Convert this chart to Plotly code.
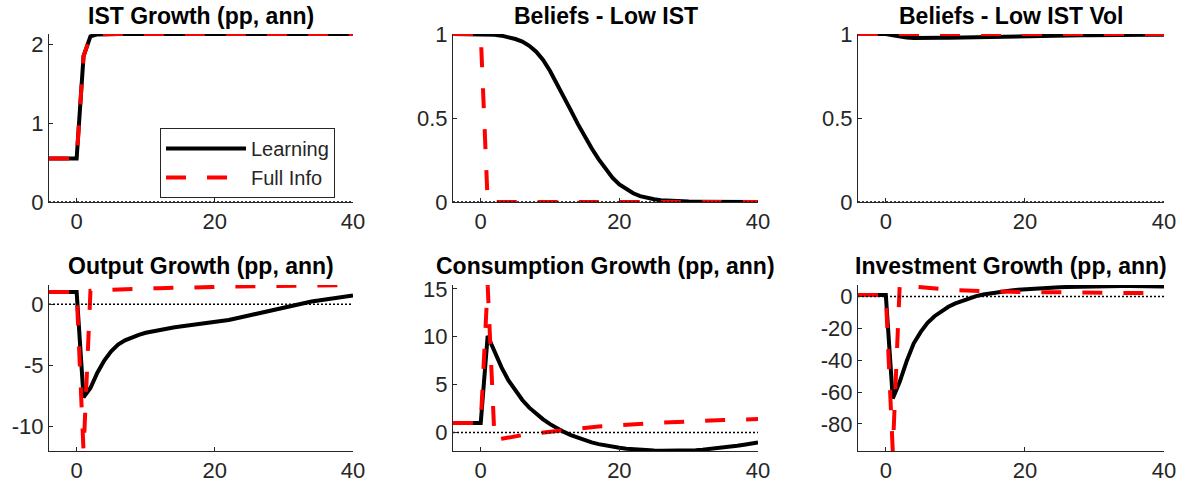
import plotly.graph_objects as go

# ---------------- data ----------------
X = list(range(-4, 41))

ist_learning = [0.55, 0.55, 0.55, 0.55, 0.55,
                1.85, 2.10, 2.125, 2.13, 2.13, 2.13, 2.13, 2.13, 2.13, 2.13,
                2.13, 2.13, 2.13, 2.13, 2.13, 2.13, 2.13, 2.13, 2.13, 2.13,
                2.13, 2.13, 2.13, 2.13, 2.13, 2.13, 2.13, 2.13, 2.13, 2.13,
                2.13, 2.13, 2.13, 2.13, 2.13, 2.13, 2.13, 2.13, 2.13, 2.13]
ist_full = [0.55, 0.55, 0.55, 0.55, 0.55,
            1.85, 2.10, 2.125, 2.13, 2.13, 2.13, 2.13, 2.13, 2.13, 2.13,
            2.13, 2.13, 2.13, 2.13, 2.13, 2.13, 2.13, 2.13, 2.13, 2.13,
            2.13, 2.13, 2.13, 2.13, 2.13, 2.13, 2.13, 2.13, 2.13, 2.13,
            2.13, 2.13, 2.13, 2.13, 2.13, 2.13, 2.13, 2.13, 2.13, 2.13]

low_ist_learning = [1, 1, 1, 1, 1,
                    0.999, 0.996, 0.99, 0.982, 0.97, 0.955, 0.93, 0.895, 0.845, 0.78,
                    0.705, 0.625, 0.545, 0.465, 0.39, 0.32, 0.255, 0.195, 0.145, 0.105,
                    0.075, 0.052, 0.035, 0.024, 0.016, 0.011, 0.008, 0.006, 0.004, 0.003,
                    0.002, 0.0015, 0.001, 0.001, 0.0008, 0.0006, 0.0005, 0.0004, 0.0003, 0.0002]
low_ist_full = [1, 1, 1, 1, 1,
                0, 0, 0, 0, 0, 0, 0, 0, 0, 0,
                0, 0, 0, 0, 0, 0, 0, 0, 0, 0,
                0, 0, 0, 0, 0, 0, 0, 0, 0, 0,
                0, 0, 0, 0, 0, 0, 0, 0, 0, 0]

low_vol_learning = [1, 1, 1, 1, 1,
                    0.993, 0.985, 0.979, 0.976, 0.975, 0.975, 0.976, 0.977, 0.978, 0.979,
                    0.980, 0.981, 0.982, 0.983, 0.984, 0.985, 0.986, 0.987, 0.988, 0.988,
                    0.989, 0.989, 0.990, 0.990, 0.991, 0.991, 0.992, 0.992, 0.992, 0.993,
                    0.993, 0.993, 0.994, 0.994, 0.994, 0.995, 0.995, 0.995, 0.995, 0.996]
low_vol_full = [1, 1, 1, 1, 1,
                1, 1, 1, 1, 1, 1, 1, 1, 1, 1,
                1, 1, 1, 1, 1, 1, 1, 1, 1, 1,
                1, 1, 1, 1, 1, 1, 1, 1, 1, 1,
                1, 1, 1, 1, 1, 1, 1, 1, 1, 1]

output_learning = [1, 1, 1, 1, 1,
                   -7.6, -6.85, -5.6, -4.6, -3.85, -3.3, -2.95, -2.7, -2.5, -2.33,
                   -2.2, -2.08, -1.98, -1.89, -1.82, -1.75, -1.69, -1.62, -1.55, -1.47,
                   -1.38, -1.28, -1.16, -1.03, -0.89, -0.75, -0.61, -0.47, -0.34, -0.21,
                   -0.09, 0.03, 0.13, 0.23, 0.32, 0.41, 0.49, 0.57, 0.65, 0.73]
output_full = [1, 1, 1, 1, 1,
               -12, 1.1, 1.14, 1.17, 1.19, 1.21, 1.23, 1.25, 1.27, 1.29,
               1.31, 1.32, 1.34, 1.35, 1.37, 1.38, 1.39, 1.40, 1.42, 1.43,
               1.44, 1.45, 1.46, 1.47, 1.48, 1.49, 1.50, 1.50, 1.51, 1.52,
               1.52, 1.53, 1.54, 1.54, 1.55, 1.55, 1.56, 1.56, 1.57, 1.57]

cons_learning = [1, 1, 1, 1, 1,
                 10.1, 8.4, 6.8, 5.45, 4.35, 3.4, 2.6, 1.95, 1.38, 0.88,
                 0.45, 0.07, -0.26, -0.55, -0.8, -1.02, -1.2, -1.35, -1.48, -1.59,
                 -1.68, -1.75, -1.81, -1.85, -1.88, -1.9, -1.9, -1.9, -1.89, -1.87,
                 -1.83, -1.78, -1.72, -1.65, -1.57, -1.48, -1.38, -1.27, -1.15, -1.03]
cons_full = [1, 1, 1, 1, 1,
             15.4, -0.8, -0.65, -0.5, -0.37, -0.26, -0.16, -0.07, 0.02, 0.1,
             0.18, 0.26, 0.34, 0.42, 0.5, 0.57, 0.63, 0.69, 0.74, 0.79,
             0.84, 0.88, 0.92, 0.96, 1.0, 1.04, 1.08, 1.11, 1.14, 1.17,
             1.2, 1.23, 1.26, 1.29, 1.31, 1.33, 1.35, 1.37, 1.39, 1.41]

inv_learning = [1, 1, 1, 1, 1,
                -64, -53.5, -40.5, -29.5, -22.3, -16.5, -12.3, -9.0, -6.4, -4.3,
                -2.6, -1.0, 0.3, 1.3, 2.1, 2.8, 3.4, 3.9, 4.3, 4.65,
                4.95, 5.2, 5.45, 5.65, 5.85, 6.0, 6.15, 6.3, 6.4, 6.5,
                6.6, 6.65, 6.7, 6.7, 6.7, 6.65, 6.6, 6.5, 6.4, 6.3]
inv_full = [1, 1, 1, 1, 1,
            -97, 7.3, 6.8, 6.3, 5.8, 5.35, 4.95, 4.6, 4.3, 4.05,
            3.85, 3.7, 3.55, 3.42, 3.3, 3.2, 3.1, 3.0, 2.92, 2.85,
            2.78, 2.72, 2.66, 2.6, 2.55, 2.5, 2.46, 2.42, 2.38, 2.35,
            2.32, 2.29, 2.27, 2.25, 2.23, 2.21, 2.2, 2.19, 2.18, 2.17]

zero_x = [-4, 40]
zero_y = [0, 0]

titles = ["IST Growth (pp, ann)", "Beliefs - Low IST", "Beliefs - Low IST Vol",
          "Output Growth (pp, ann)", "Consumption Growth (pp, ann)", "Investment Growth (pp, ann)"]
series_learning = [ist_learning, low_ist_learning, low_vol_learning,
                   output_learning, cons_learning, inv_learning]
series_full = [ist_full, low_ist_full, low_vol_full,
               output_full, cons_full, inv_full]
y_ranges = [[0, 2.13], [0, 1], [0, 1], [-12, 1.58], [-1.92, 15.4], [-97, 7.3]]
y_ticks = [[0, 1, 2], [0, 0.5, 1], [0, 0.5, 1], [-10, -5, 0], [0, 5, 10, 15],
           [-80, -60, -40, -20, 0]]
y_ticktext = [["0", "1", "2"], ["0", "0.5", "1"], ["0", "0.5", "1"],
              ["-10", "-5", "0"], ["0", "5", "10", "15"],
              ["-80", "-60", "-40", "-20", "0"]]
x_range = [-4, 40]
x_ticks = [0, 20, 40]
x_ticktext = ["0", "20", "40"]

# ---------------- layout ----------------
W, H = 1185, 487
col_px = [(49, 353), (453, 758), (858, 1164)]
row_px = [(34, 202), (285, 451)]
title_y_px = [16, 266]

FONT = "Liberation Sans, Arial, sans-serif"
AX = "#262626"

fig = go.Figure()
layout = dict(template="none", width=W, height=H, autosize=False,
              margin=dict(l=0, r=0, t=0, b=0, pad=0, autoexpand=False),
              paper_bgcolor="white", plot_bgcolor="white",
              font=dict(family=FONT, color=AX),
              annotations=[])

for i in range(6):
    r, c = divmod(i, 3)
    n = "" if i == 0 else str(i + 1)
    xa, ya = "x" + n, "y" + n
    x0, x1 = col_px[c]
    yt, yb = row_px[r]
    layout["xaxis" + n] = dict(domain=[x0 / W, x1 / W], anchor=ya, range=x_range,
                               tickvals=x_ticks, ticktext=x_ticktext,
                               showline=True, linecolor=AX, linewidth=1,
                               ticks="inside", ticklen=4, tickcolor=AX, tickwidth=1,
                               showgrid=False, zeroline=False, automargin=False,
                               tickfont=dict(size=22, color=AX, family=FONT))
    layout["yaxis" + n] = dict(domain=[1 - yb / H, 1 - yt / H], anchor=xa,
                               range=y_ranges[i],
                               tickvals=y_ticks[i], ticktext=y_ticktext[i],
                               showline=True, linecolor=AX, linewidth=1,
                               ticks="inside", ticklen=4, tickcolor=AX, tickwidth=1,
                               showgrid=False, zeroline=False, automargin=False,
                               tickfont=dict(size=22, color=AX, family=FONT))
    fig.add_trace(go.Scatter(x=X, y=series_learning[i], xaxis=xa, yaxis=ya,
                             mode="lines", name="Learning", showlegend=(i == 0),
                             line=dict(color="black", width=4), cliponaxis=False))
    fig.add_trace(go.Scatter(x=X, y=series_full[i], xaxis=xa, yaxis=ya,
                             mode="lines", name="Full Info", showlegend=(i == 0),
                             line=dict(color="#ff0000", width=4, dash="20px,21px"),
                             cliponaxis=False))
    fig.add_trace(go.Scatter(x=zero_x, y=zero_y, xaxis=xa, yaxis=ya,
                             mode="lines", showlegend=False, hoverinfo="skip",
                             line=dict(color="black", width=1.5, dash="2px,2px"),
                             cliponaxis=False))
    layout["annotations"].append(dict(
        text=titles[i], xref="paper", yref="paper",
        x=(x0 + x1) / 2 / W, y=1 - title_y_px[r] / H,
        xanchor="center", yanchor="middle", showarrow=False,
        font=dict(size=23, color="black", family=FONT, weight="bold")))

layout["legend"] = dict(x=160 / W, y=1 - 128 / H, xanchor="left", yanchor="top",
                        bgcolor="white", bordercolor=AX, borderwidth=1,
                        font=dict(size=20, color=AX, family=FONT),
                        itemwidth=80, tracegroupgap=0)
layout["showlegend"] = True
fig.update_layout(**layout)

fig.write_html("out.html", config={"displayModeBar": False},
               post_script="document.body.style.margin='0px';")
